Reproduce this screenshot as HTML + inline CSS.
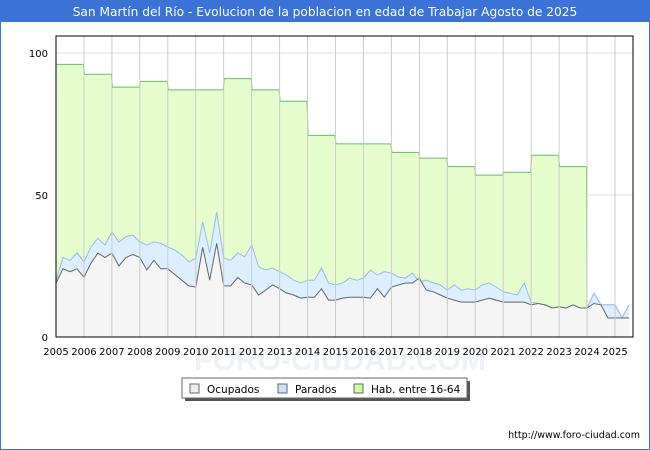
<!DOCTYPE html>
<html><head><meta charset="utf-8"><style>
body{margin:0;background:#fff;font-family:"Liberation Sans","DejaVu Sans",sans-serif}
#wrap{position:relative;width:650px;height:450px;overflow:hidden;background:#fff}
</style></head><body>
<div id="wrap">
<svg id="svg" width="650" height="450" xmlns="http://www.w3.org/2000/svg">
<rect x="0" y="0" width="650" height="450" fill="#fff" stroke="#3a72d8" stroke-width="2"/>
<rect x="0" y="0" width="650" height="22" fill="#3a72d8"/>
<text x="325" y="16" font-size="12.2" fill="#fff" text-anchor="middle" font-family="DejaVu Sans, sans-serif">San Martín del Río - Evolucion de la poblacion en edad de Trabajar Agosto de 2025</text>
<text x="340" y="370" font-size="30" fill="#eef1f8" text-anchor="middle" font-weight="bold">FORO-CIUDAD.COM</text>
<g id="grid"></g>
<g id="series"></g>
<rect x="56" y="36" width="577" height="301" fill="none" stroke="#000" stroke-width="1"/>
<g id="axes"></g>
<g>
<rect x="185" y="381" width="285" height="20" fill="#555"/>
<rect x="182" y="378" width="285" height="20" fill="#fff" stroke="#666"/>
<rect x="190" y="384" width="9" height="9" fill="#eee" stroke="#666"/>
<text x="207" y="393" font-size="10.5" fill="#000" font-family="DejaVu Sans, sans-serif">Ocupados</text>
<rect x="278" y="384" width="9" height="9" fill="#cce4ff" stroke="#666"/>
<text x="295" y="393" font-size="10.5" fill="#000" font-family="DejaVu Sans, sans-serif">Parados</text>
<rect x="354" y="384" width="9" height="9" fill="#ccff99" stroke="#666"/>
<text x="371" y="393" font-size="10.5" fill="#000" font-family="DejaVu Sans, sans-serif">Hab. entre 16-64</text>
</g>
<text x="640" y="438" font-size="9.5" fill="#000" text-anchor="end" font-family="DejaVu Sans, sans-serif">http://www.foro-ciudad.com</text>
</svg>
</div>
<script>
const years=[2005,2006,2007,2008,2009,2010,2011,2012,2013,2014,2015,2016,2017,2018,2019,2020,2021,2022,2023,2024,2025];
const yTicks=[0,50,100];
const habYearly=[96,92.5,88,90,87,87,91,87,83,71,68,68,65,63,60,57,58,64,60];
const ocupados=[19,24,23,24,21,26,29.5,28,29.5,25,28,29,28,23.6,27,24,24,22,20,18,17.6,31.6,20,33,18,18,21,19,18.3,14.8,16.5,18.3,17,15.5,14.8,13.7,14,14,17,13,13,13.7,14,14,14,13.7,17,14,17.6,18.3,19,19,20.7,16.5,15.9,14.8,13.7,13,12.3,12.3,12.3,13,13.7,13,12.3,12.3,12.3,12.3,11.3,11.8,11.3,10.2,10.6,10.2,11.3,10.2,10.2,11.8,11.3,6.7,6.7,6.7,6.7];
const total=[20,28,27,29.6,26.4,31.7,34.8,32.4,37,33.5,35.3,35.9,33.5,32.4,33.5,33,31.7,30.6,28.9,26.4,27.8,40.5,29.6,44,27.8,27,29.6,28.2,32.4,24.7,23.6,24.3,23,21.8,20,19,20,20,24.3,19,18.3,19,20.7,20,20.7,23.6,21.8,23,22.5,21.1,20.7,22.5,19.4,20,19,18.3,16.5,18.3,16.5,17,16.5,18.3,19,17.6,15.9,15.4,14.8,19,12.3,11.8,11.3,10.2,10.6,10.2,11.3,10.2,10.2,15.4,11.3,11.3,11.3,6.7,11.3];
const X0=56,X1=633,Y0=337;
const xs=t=>X0+(t-2005)*27.95;
const ys=v=>Y0-v*2.84;
const NS='http://www.w3.org/2000/svg';
function mk(tag,attrs,parent){const e=document.createElementNS(NS,tag);for(const k in attrs)e.setAttribute(k,attrs[k]);parent.appendChild(e);return e;}
const grid=document.getElementById('grid'),axes=document.getElementById('axes'),ser=document.getElementById('series');
yTicks.forEach(v=>{const l=mk('line',{x1:X0,x2:X1,y1:ys(v),y2:ys(v),stroke:'#ddd'},grid);


const t=mk('text',{x:X0-8,y:ys(v)+4,'font-size':10,'text-anchor':'end','font-family':'DejaVu Sans, sans-serif'},axes);t.textContent=v;

});
const tq=i=>2005+i*0.25;
let habPts=[];
habYearly.forEach((h,i)=>{habPts.push([xs(years[i]+0.02),ys(h)]);habPts.push([xs(years[i]+0.98),ys(h)]);});
total.forEach((v,i)=>{if(tq(i)>=2024)habPts.push([xs(tq(i)),ys(v)]);});
function poly(pts,fill,stroke,name){
const d='M'+xs(2005)+','+Y0+' L'+pts.map(p=>p[0].toFixed(1)+','+p[1].toFixed(1)).join(' L')+' L'+pts[pts.length-1][0].toFixed(1)+','+Y0+'Z';
const a=mk('path',{d:d,fill:fill,stroke:'none'},ser);


const l=mk('polyline',{points:pts.map(p=>p[0].toFixed(1)+','+p[1].toFixed(1)).join(' '),fill:'none',stroke:stroke,'stroke-width':1},ser);

}
poly(habPts,'#e6fccc','#66bb66','hab');
poly(total.map((v,i)=>[xs(tq(i)),ys(v)]),'#ddeeff','#99bbee','parados');
poly(ocupados.map((v,i)=>[xs(tq(i)),ys(v)]),'#f5f5f5','#666','ocupados');
years.forEach(y=>{const x=xs(y);const l=mk('line',{x1:x,x2:x,y1:36,y2:Y0,stroke:'#ccc','stroke-width':1},ser);


const t=mk('text',{x:x,y:355,'font-size':10,'text-anchor':'middle','font-family':'DejaVu Sans, sans-serif'},axes);t.textContent=y;

});
</script>
</body></html>
